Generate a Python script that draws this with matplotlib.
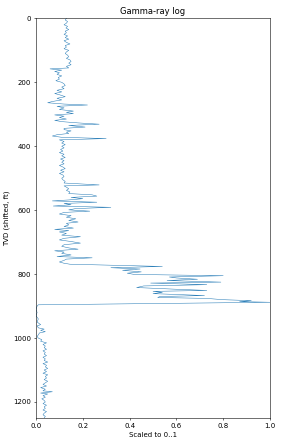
import matplotlib
matplotlib.use("Agg")
import matplotlib.pyplot as plt

depth = [0, 5, 10, 15, 20, 25, 30, 35, 40, 45, 50, 55, 60, 65, 70, 75, 80, 85, 90, 95,
         100, 105, 110, 115, 120, 125, 130, 135, 140, 145, 150, 155, 158, 162, 166, 170, 175, 180, 185, 190,
         195, 200, 205, 210, 215, 220, 225, 230, 235, 240, 245, 250, 255, 260, 264, 268, 271, 275, 280, 285,
         290, 294, 298, 302, 306, 310, 315, 319, 323, 327, 331, 335, 340, 344, 348, 352, 356, 360, 364, 368,
         372, 376, 380, 385, 390, 395, 400, 405, 410, 415, 420, 425, 430, 435, 440, 445, 450, 455, 460, 465,
         470, 475, 480, 485, 490, 495, 500, 505, 510, 515, 521, 524, 528, 533, 538, 543, 548, 552, 556, 560,
         564, 568, 571, 575, 579, 583, 587, 591, 595, 599, 603, 607, 612, 617, 622, 627, 632, 637, 641, 646,
         651, 656, 660, 664, 668, 673, 678, 683, 688, 693, 698, 703, 708, 713, 718, 722, 727, 731, 735, 740,
         745, 749, 753, 757, 762, 766, 769, 772, 776, 780, 784, 788, 793, 797, 801, 805, 809, 812, 816, 820,
         825, 828, 833, 837, 842, 847, 851, 854, 857, 861, 867, 870, 873, 876, 880, 883, 886, 888, 896, 900,
         910, 920, 930, 940, 950, 958, 962, 968, 972, 976, 980, 984, 990, 995, 1000, 1005, 1010, 1015, 1020, 1025,
         1030, 1035, 1040, 1045, 1050, 1055, 1060, 1065, 1070, 1075, 1080, 1085, 1090, 1095, 1100, 1105, 1110, 1115, 1120, 1125,
         1130, 1135, 1140, 1145, 1150, 1155, 1160, 1165, 1168, 1172, 1175, 1180, 1185, 1190, 1195, 1200, 1205, 1210, 1215, 1220,
         1225, 1230, 1235, 1240, 1245, 1250]
gr = [0.13, 0.125, 0.135, 0.13, 0.12, 0.135, 0.128, 0.14, 0.125, 0.13, 0.12, 0.135, 0.125, 0.14, 0.12, 0.13, 0.145, 0.125, 0.13, 0.12,
      0.14, 0.13, 0.125, 0.135, 0.14, 0.13, 0.145, 0.15, 0.14, 0.15, 0.13, 0.14, 0.06, 0.11, 0.08, 0.1, 0.09, 0.11, 0.095, 0.1,
      0.085, 0.11, 0.12, 0.125, 0.11, 0.12, 0.09, 0.11, 0.08, 0.105, 0.125, 0.09, 0.11, 0.07, 0.05, 0.12, 0.22, 0.09, 0.12, 0.1,
      0.16, 0.13, 0.16, 0.08, 0.12, 0.1, 0.13, 0.08, 0.11, 0.18, 0.27, 0.14, 0.21, 0.12, 0.12, 0.15, 0.13, 0.14, 0.09, 0.07,
      0.11, 0.30, 0.1, 0.12, 0.11, 0.125, 0.11, 0.12, 0.105, 0.115, 0.1, 0.12, 0.11, 0.125, 0.105, 0.12, 0.11, 0.12, 0.1, 0.115,
      0.125, 0.105, 0.12, 0.1, 0.115, 0.12, 0.11, 0.115, 0.125, 0.12, 0.27, 0.12, 0.13, 0.14, 0.13, 0.145, 0.14, 0.24, 0.26, 0.15,
      0.2, 0.14, 0.07, 0.26, 0.12, 0.15, 0.074, 0.32, 0.17, 0.14, 0.23, 0.12, 0.1, 0.15, 0.13, 0.17, 0.14, 0.18, 0.13, 0.14,
      0.12, 0.16, 0.08, 0.14, 0.1, 0.13, 0.11, 0.19, 0.12, 0.1, 0.15, 0.19, 0.12, 0.11, 0.14, 0.18, 0.08, 0.12, 0.11, 0.15,
      0.09, 0.24, 0.13, 0.12, 0.1, 0.12, 0.145, 0.32, 0.54, 0.32, 0.445, 0.37, 0.45, 0.39, 0.42, 0.80, 0.57, 0.60, 0.69, 0.56,
      0.79, 0.49, 0.73, 0.46, 0.43, 0.59, 0.73, 0.50, 0.54, 0.50, 0.72, 0.53, 0.52, 0.73, 0.80, 0.92, 0.87, 1.0, 0.01, 0.005,
      0.0, 0.005, 0.0, 0.01, 0.005, 0.02, 0.005, 0.01, 0.035, 0.02, 0.04, 0.015, 0.01, 0.005, 0.01, 0.025, 0.02, 0.045, 0.03, 0.04,
      0.035, 0.045, 0.03, 0.04, 0.035, 0.045, 0.03, 0.04, 0.035, 0.05, 0.03, 0.045, 0.04, 0.05, 0.035, 0.045, 0.03, 0.05, 0.04, 0.045,
      0.035, 0.05, 0.04, 0.03, 0.045, 0.02, 0.04, 0.03, 0.07, 0.02, 0.05, 0.03, 0.04, 0.025, 0.035, 0.04, 0.03, 0.045, 0.035, 0.04,
      0.03, 0.045, 0.035, 0.03, 0.04, 0.035]

fig = plt.figure(figsize=(5.62, 8.96), dpi=50)
ax = fig.add_axes([0.128, 0.067, 0.833, 0.892])
ax.plot(gr, depth, color="#1f77b4", lw=0.7)
ax.set_xlim(0, 1)
ax.set_ylim(1250, 0)
ax.set_xticks([0, 0.2, 0.4, 0.6, 0.8, 1.0])
ax.set_yticks([0, 200, 400, 600, 800, 1000, 1200])
ax.set_title("Gamma-ray log")
ax.set_xlabel("Scaled to 0..1")
ax.set_ylabel("TVD (shifted, ft)")
fig.savefig("out.png", dpi=50)
